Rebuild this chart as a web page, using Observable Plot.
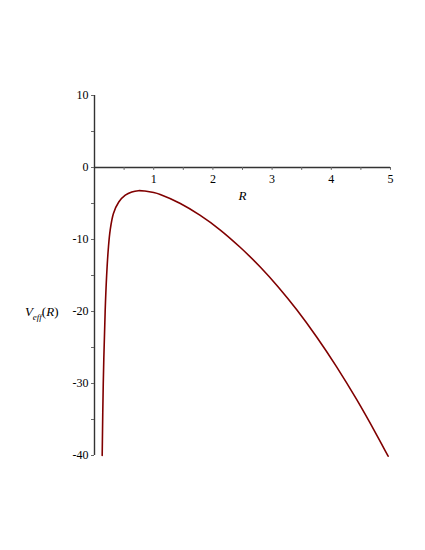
<!DOCTYPE html>
<html><head><meta charset="utf-8">
<script src="https://cdn.jsdelivr.net/npm/d3@7"></script>
<script src="https://cdn.jsdelivr.net/npm/@observablehq/plot@0.6"></script>
<style>body{margin:0;background:#fff}</style>
</head><body><div id="chart"></div>
<script>
// Curve samples
const R = [0.13, 0.148, 0.18, 0.205, 0.236, 0.265, 0.32, 0.41, 0.52, 0.63, 0.74, 0.85, 1.0, 1.11, 1.45, 1.78, 2.12, 2.46, 2.8, 3.1, 3.42, 3.75, 4.09, 4.43, 4.77, 4.96];
const V = [-40, -30, -20, -15, -11, -8.7, -6.4, -4.8, -3.85, -3.4, -3.22, -3.27, -3.48, -3.75, -5.0, -6.62, -8.65, -11.08, -13.82, -16.56, -19.8, -23.51, -27.69, -32.25, -37.19, -40.1];

const xTickValues = [1, 2, 3, 4, 5];
const xTickLabels = ["1", "2", "3", "4", "5"];
const xMinorTicks = [0.5, 1, 1.5, 2, 2.5, 3, 3.5, 4, 4.5, 5];
const yTickValues = [10, 0, -10, -20, -30, -40];
const yTickLabels = ["10", "0", "-10", "-20", "-30", "-40"];
const yMinorTicks = [10, 5, 0, -5, -10, -15, -20, -25, -30, -35, -40];
const xDomain = [0, 5];
const yDomain = [-40, 10];
const xLabel = "R";
const yLabelBase = "V", yLabelSub = "eff", yLabelRest = "R";

const curve = R.map((r, i) => ({R: r, V: V[i]}));
const xTicks = xTickValues.map((v, i) => ({v, label: xTickLabels[i]}));
const yTicks = yTickValues.map((v, i) => ({v, label: yTickLabels[i]}));
const font = "Liberation Serif, Times New Roman, serif";
const axisColor = "#333";

const plot = Plot.plot({
  width: 425,
  height: 550,
  marginLeft: 94,
  marginRight: 35,
  marginTop: 95,
  marginBottom: 95,
  x: {domain: xDomain, axis: null},
  y: {domain: yDomain, axis: null},
  style: {fontFamily: font, fontSize: "12px", background: "#fff", color: "#000"},
  marks: [
    Plot.ruleY([0], {x1: xDomain[0], x2: xDomain[1], stroke: axisColor, strokeWidth: 1.4}),
    Plot.ruleX([0], {y1: yDomain[0], y2: yDomain[1], stroke: axisColor, strokeWidth: 1.4}),
    Plot.ruleX(xMinorTicks, {x: d => d, y1: 0, y2: -0.4, stroke: "#666", strokeWidth: 1}),
    Plot.ruleY(yMinorTicks, {y: d => d, x1: -0.05, x2: 0, stroke: "#666", strokeWidth: 1}),
    Plot.text(xTicks, {x: "v", y: 0, text: "label", dy: 12, fill: "#000"}),
    Plot.text(yTicks, {x: 0, y: "v", text: "label", dx: -6, textAnchor: "end", fill: "#000"}),
    Plot.text([xLabel], {x: 2.5, y: 0, text: d => d, dy: 28, fontStyle: "italic", fill: "#000", fontSize: 13}),
    Plot.text(["__YLABEL__"], {x: 0, y: -20, text: d => d, dx: -36, textAnchor: "end", fill: "#000", fontSize: 13}),
    Plot.line(curve, {x: "R", y: "V", curve: "catmull-rom", stroke: "#800000", strokeWidth: 1.6})
  ]
});

// Build the rich y-axis label (italic V with subscript "eff")
d3.select(plot).selectAll("text").filter(function() { return this.textContent === "__YLABEL__"; })
  .each(function() {
    const t = d3.select(this);
    t.text(null);
    t.append("tspan").attr("font-style", "italic").text(yLabelBase);
    t.append("tspan").attr("font-style", "italic").attr("font-size", 9).attr("dy", 4).text(yLabelSub);
    t.append("tspan").attr("dy", -4).text("(");
    t.append("tspan").attr("font-style", "italic").text(yLabelRest);
    t.append("tspan").text(")");
  });

document.getElementById("chart").appendChild(plot);
</script>
</body></html>
